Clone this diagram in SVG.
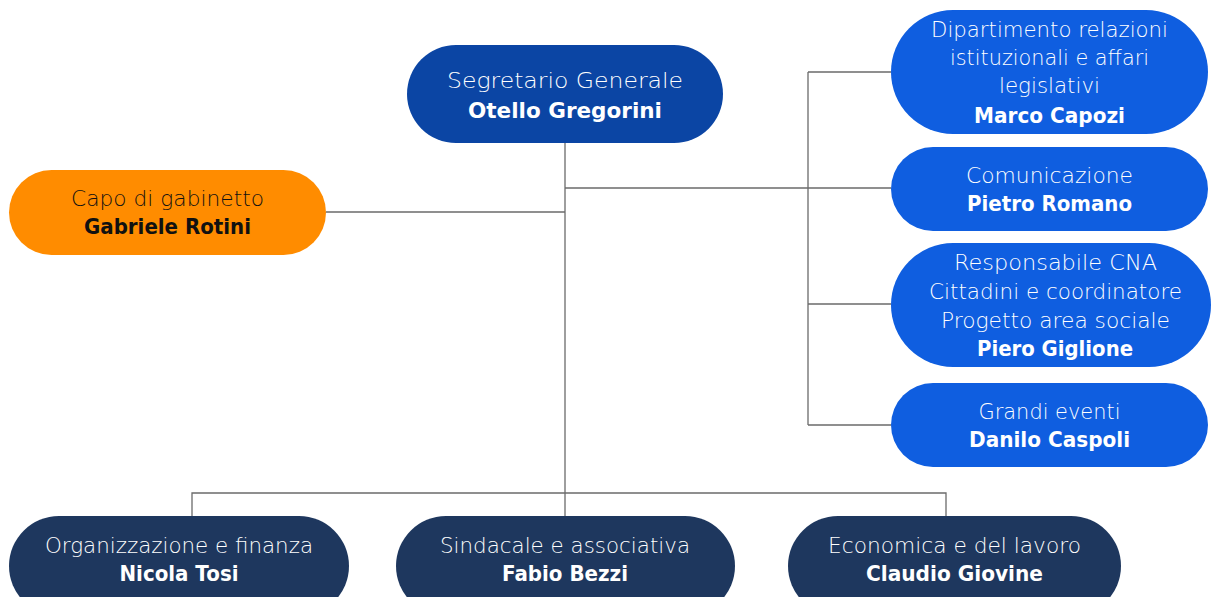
<svg xmlns="http://www.w3.org/2000/svg" width="1211" height="597" viewBox="0 0 1211 597">
<style>
text{font-family:"DejaVu Sans","Liberation Sans",sans-serif;font-size:21.5px;text-anchor:middle;fill:#fff;font-weight:200}
.b{font-weight:700}
.dk{fill:#111}
.top{fill:#0b45a4}
.side{fill:#0f5ee0}
.cap{fill:#ff8c00}
.bot{fill:#1e375e}
.c{stroke:#6b6b6b;stroke-width:1.3;fill:none}
</style>
<rect width="1211" height="597" fill="#fff"/>
<g id="connectors">
<path class="c" d="M565 143V493M565 188H891M808 72V425M808 72H891M808 304H891M808 425H891M326 212H565M192 516V493H946V516M565 493V516"/>
</g>
<g id="segretario">
<rect class="top" x="407" y="45" width="316" height="98" rx="49"/>
<text x="565" y="88" textLength="236" lengthAdjust="spacingAndGlyphs">Segretario Generale</text>
<text class="b" x="565" y="118" textLength="194" lengthAdjust="spacingAndGlyphs">Otello Gregorini</text>
</g>
<g id="capo">
<rect class="cap" x="9" y="170" width="317" height="85" rx="42.5"/>
<text class="dk" x="167.5" y="206" textLength="193" lengthAdjust="spacingAndGlyphs">Capo di gabinetto</text>
<text class="dk b" x="167.5" y="234" textLength="167" lengthAdjust="spacingAndGlyphs">Gabriele Rotini</text>
</g>
<g id="dipartimento">
<rect class="side" x="891" y="10" width="317" height="124" rx="62"/>
<text x="1049.5" y="37" textLength="237" lengthAdjust="spacingAndGlyphs">Dipartimento relazioni</text>
<text x="1049.5" y="65" textLength="199" lengthAdjust="spacingAndGlyphs">istituzionali e affari</text>
<text x="1049.5" y="93" textLength="101" lengthAdjust="spacingAndGlyphs">legislativi</text>
<text class="b" x="1049.5" y="123" textLength="151" lengthAdjust="spacingAndGlyphs">Marco Capozi</text>
</g>
<g id="comunicazione">
<rect class="side" x="891" y="147" width="317" height="84" rx="42"/>
<text x="1049.5" y="183" textLength="167" lengthAdjust="spacingAndGlyphs">Comunicazione</text>
<text class="b" x="1049.5" y="211" textLength="165" lengthAdjust="spacingAndGlyphs">Pietro Romano</text>
</g>
<g id="responsabile">
<rect class="side" x="891" y="243" width="320" height="124" rx="62"/>
<text x="1055.5" y="270" textLength="203" lengthAdjust="spacingAndGlyphs">Responsabile CNA</text>
<text x="1055.5" y="299" textLength="253" lengthAdjust="spacingAndGlyphs">Cittadini e coordinatore</text>
<text x="1055.5" y="328" textLength="229" lengthAdjust="spacingAndGlyphs">Progetto area sociale</text>
<text class="b" x="1055" y="356" textLength="156" lengthAdjust="spacingAndGlyphs">Piero Giglione</text>
</g>
<g id="eventi">
<rect class="side" x="891" y="383" width="317" height="84" rx="42"/>
<text x="1049.5" y="419" textLength="142" lengthAdjust="spacingAndGlyphs">Grandi eventi</text>
<text class="b" x="1049.5" y="447" textLength="161" lengthAdjust="spacingAndGlyphs">Danilo Caspoli</text>
</g>
<g id="organizzazione">
<rect class="bot" x="9" y="516" width="340" height="100" rx="50"/>
<text x="179" y="553" textLength="268" lengthAdjust="spacingAndGlyphs">Organizzazione e finanza</text>
<text class="b" x="179" y="581" textLength="119" lengthAdjust="spacingAndGlyphs">Nicola Tosi</text>
</g>
<g id="sindacale">
<rect class="bot" x="396" y="516" width="339" height="100" rx="50"/>
<text x="565" y="553" textLength="250" lengthAdjust="spacingAndGlyphs">Sindacale e associativa</text>
<text class="b" x="565" y="581" textLength="126" lengthAdjust="spacingAndGlyphs">Fabio Bezzi</text>
</g>
<g id="economica">
<rect class="bot" x="788" y="516" width="333" height="100" rx="50"/>
<text x="954.5" y="553" textLength="253" lengthAdjust="spacingAndGlyphs">Economica e del lavoro</text>
<text class="b" x="954.5" y="581" textLength="177" lengthAdjust="spacingAndGlyphs">Claudio Giovine</text>
</g>
</svg>
